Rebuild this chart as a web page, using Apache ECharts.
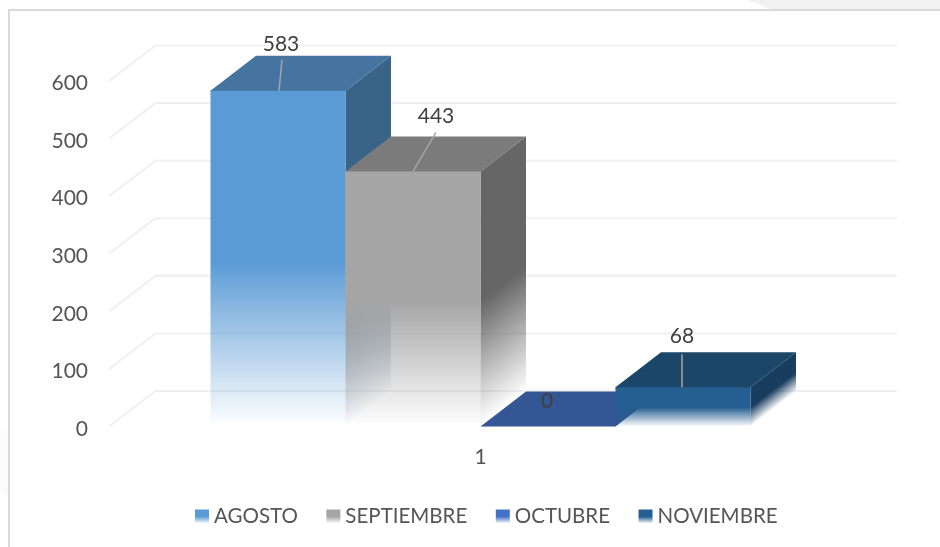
<!DOCTYPE html>
<html>
<head>
<meta charset="utf-8">
<style>html,body{margin:0;padding:0;background:#fff}#c{width:940px;height:547px}</style>
<script src="https://cdn.jsdelivr.net/npm/echarts@6/dist/echarts.min.js"></script>
</head>
<body>
<div id="c"></div>
<script>
var categories = ['1'];
var seriesNames = ['AGOSTO', 'SEPTIEMBRE', 'OCTUBRE', 'NOVIEMBRE'];
var agosto = [583];
var septiembre = [443];
var octubre = [0];
var noviembre = [68];
var yTicks = [0, 100, 200, 300, 400, 500, 600];

var FONT = 'Lato';
var DX = 45.5, DY = -35;
var WIDTH_FRACTION = 135 / 743;
var styles = [
  {front: '#5B9BD5', top: '#44749F', side: '#3A6487', lx: 3, ly: -47, ax: 1, tipx: 4, tipy: -31},
  {front: '#A5A5A5', top: '#7B7B7B', side: '#666666', lx: 23, ly: -55, ax: 0, tipx: 23, tipy: -39},
  {front: '#4472C4', top: '#345694', side: '#2E4D85', lx: -1, ly: -25, ax: 0, tipx: null, tipy: null},
  {front: '#255E91', top: '#1C4668', side: '#183D5E', lx: -1, ly: -51, ax: -1, tipx: -1, tipy: -33}
];

function fade(color, x, y, x2, y2, global) {
  return {
    type: 'linear', x: x, y: y, x2: x2, y2: y2, global: !!global,
    colorStops: [
      {offset: 0, color: color},
      {offset: 0.51, color: color},
      {offset: 1, color: echarts.color.modifyAlpha(color, 0)}
    ]
  };
}

function renderBar(idx) {
  var st = styles[idx];
  return function (params, api) {
    var value = api.value(1);
    var c = api.coord([api.value(0), value]);
    var base = api.coord([api.value(0), 0]);
    var w = api.size([1, 0])[0] * WIDTH_FRACTION;
    var x0 = c[0] - 2 * w + idx * w;
    var x1 = x0 + w;
    var yt = c[1], yb = base[1], h = yb - yt;
    var kids = [];
    if (h > 0) {
      // side face: the fade runs parallel to the depth edge
      var nx = -DY, ny = DX, k = h * ny / (nx * nx + ny * ny);
      kids.push({
        type: 'polygon',
        shape: {points: [[x1, yt], [x1 + DX, yt + DY], [x1 + DX, yb + DY], [x1, yb]]},
        style: {fill: fade(st.side, x1, yt, x1 + k * nx, yt + k * ny, true)}
      });
    }
    // the top face runs one pixel under an opaque front face so no seam shows
    var under = h > 0 ? 1 : 0;
    kids.push({
      type: 'polygon',
      shape: {points: [[x0, yt + under], [x1, yt + under], [x1, yt], [x1 + DX, yt + DY], [x0 + DX, yt + DY], [x0, yt]]},
      style: {fill: st.top}
    });
    if (h > 0) {
      kids.push({
        type: 'rect',
        shape: {x: x0, y: yt, width: w, height: h},
        style: {fill: fade(st.front, 0, 0, 0, 1)}
      });
    }
    var cx = x0 + w / 2;
    if (st.tipx !== null) {
      kids.push({
        type: 'line',
        shape: {x1: cx + st.ax, y1: yt, x2: cx + st.tipx, y2: yt + st.tipy},
        style: {stroke: '#A6A6A6', lineWidth: 1.5}
      });
    }
    kids.push({
      type: 'text',
      style: {
        x: cx + st.lx, y: yt + st.ly, text: String(value),
        fill: '#404040', font: '21px ' + FONT, align: 'center', verticalAlign: 'middle'
      }
    });
    return {type: 'group', children: kids};
  };
}

function renderGrid(params, api) {
  var p = api.coord([0, api.value(0)]);
  var left = params.coordSys.x;
  var backY = p[1] - 35.5, backX = left + 46.5;
  return {
    type: 'polyline',
    shape: {points: [[left, p[1]], [backX, backY], [897, backY]]},
    style: {stroke: '#F0F0F0', lineWidth: 2, fill: null}
  };
}

var values = [agosto, septiembre, octubre, noviembre];
var series = [{
  name: 'grid',
  type: 'custom',
  silent: true,
  renderItem: renderGrid,
  encode: {y: 0},
  data: yTicks.map(function (t) { return [t]; }),
  z: 1
}];
seriesNames.forEach(function (name, i) {
  series.push({
    name: name,
    type: 'custom',
    renderItem: renderBar(i),
    encode: {x: 0, y: 1},
    itemStyle: {color: styles[i].front},
    data: values[i].map(function (v, j) { return [j, v]; }),
    z: 2 + i
  });
});

var chart = echarts.init(document.getElementById('c'), null, {renderer: 'canvas'});
chart.setOption({
  animation: false,
  backgroundColor: '#FFFFFF',
  textStyle: {fontFamily: FONT},
  grid: {left: 109, right: 88, top: 81, bottom: 120.5},
  xAxis: {
    type: 'category', data: categories,
    axisLine: {show: false}, axisTick: {show: false}, splitLine: {show: false},
    axisLabel: {color: '#555555', fontSize: 21, fontFamily: FONT, margin: 20}
  },
  yAxis: {
    type: 'value', min: 0, max: 600, interval: 100,
    axisLine: {show: false}, axisTick: {show: false}, splitLine: {show: false},
    axisLabel: {color: '#555555', fontSize: 21, fontFamily: FONT, margin: 21, verticalAlign: 'top', lineHeight: 5}
  },
  legend: {
    left: 190, top: 501, itemWidth: 14, itemHeight: 14, itemGap: 28.5,
    textStyle: {color: '#555555', fontSize: 20.5, fontFamily: FONT},
    data: seriesNames.map(function (n, i) {
      return {name: n, icon: 'rect', itemStyle: {color: fade(styles[i].front, 0, 0, 0, 1)}};
    })
  },
  graphic: [
    {type: 'polygon', z: 0, silent: true, shape: {points: [[748, 0], [940, 0], [940, 9], [770, 9]]}, style: {fill: '#F0F1F0'}},
    {type: 'polygon', z: 0, silent: true, shape: {points: [[0, 430], [9, 432], [9, 500], [0, 490]]}, style: {fill: '#FBFBFB'}},
    {type: 'rect', z: 0, silent: true, shape: {x: 8, y: 9, width: 932, height: 2}, style: {fill: '#DADADA'}},
    {type: 'rect', z: 0, silent: true, shape: {x: 8, y: 9, width: 2, height: 538}, style: {fill: '#DADADA'}}
  ],
  series: series
});
</script>
</body>
</html>
